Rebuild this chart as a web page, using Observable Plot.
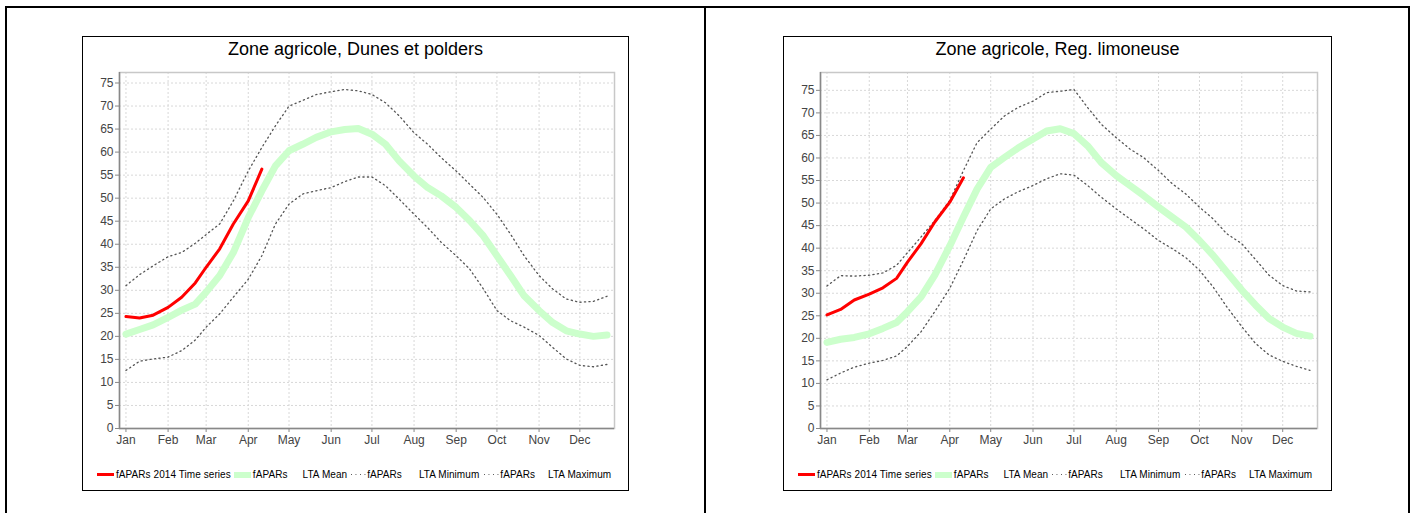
<!DOCTYPE html>
<html>
<head>
<meta charset="utf-8">
<script src="https://cdn.jsdelivr.net/npm/d3@7"></script>
<script src="https://cdn.jsdelivr.net/npm/@observablehq/plot@0.6"></script>
<style>
  html, body { margin:0; padding:0; background:#fff; }
  body { width:1415px; height:513px; overflow:hidden; position:relative; font-family:"Liberation Sans", Arial, sans-serif; }
  .frame { position:absolute; left:5px; top:6px; width:1401px; height:560px; border:2px solid #000; }
  .divider { position:absolute; left:704px; top:6px; width:2px; height:560px; background:#000; }
  .box { position:absolute; top:36px; height:453px; border:1px solid #000; background:#fff; }
  .title { position:absolute; left:0; right:0; top:2px; line-height:21px; text-align:center; font-size:18px; color:#000; }
  .plot { position:absolute; left:0; top:24px; }
  .legend { position:absolute; left:14px; top:432px; display:flex; align-items:center; font-size:10px; letter-spacing:0.07px; color:#000; white-space:pre; }
  .sw { display:inline-block; }
  .sw.red { width:17px; height:3px; background:#ff0000; }
  .sw.green { width:17px; height:6px; background:#ccffcc; }
  .sw.dots { width:15px; height:2px; background-image:linear-gradient(to right, #555 0 1.3px, transparent 1.3px 100%); background-size:4.5px 1.3px; background-repeat:repeat-x; background-position:0 0.3px; }
</style>
</head>
<body>
<div class="frame"></div>
<div class="divider"></div>
<div class="box" id="boxL" style="left:82px; width:545px;"><div class="title" id="titleL"></div><div class="plot" id="plotL"></div></div>
<div class="box" id="boxR" style="left:783px; width:547px;"><div class="title" id="titleR"></div><div class="plot" id="plotR"></div></div>
<script>
// ---------- DATA ----------
const dekads = [
  "2014-01-01","2014-01-11","2014-01-21","2014-02-01","2014-02-11","2014-02-21",
  "2014-03-01","2014-03-11","2014-03-21","2014-04-01","2014-04-11","2014-04-21",
  "2014-05-01","2014-05-11","2014-05-21","2014-06-01","2014-06-11","2014-06-21",
  "2014-07-01","2014-07-11","2014-07-21","2014-08-01","2014-08-11","2014-08-21",
  "2014-09-01","2014-09-11","2014-09-21","2014-10-01","2014-10-11","2014-10-21",
  "2014-11-01","2014-11-11","2014-11-21","2014-12-01","2014-12-11","2014-12-21"
];
const yTicks = [0,5,10,15,20,25,30,35,40,45,50,55,60,65,70,75];

const titleLeft = "Zone agricole, Dunes et polders";
const left2014 = [24.3, 24.0, 24.6, 26.3, 28.5, 31.6, 35.0, 39.0, 44.4, 49.4, 56.3];
const leftMean = [20.5, 21.5, 22.5, 24.1, 25.7, 27.0, 29.6, 33.2, 38.2, 45.8, 51.6, 57.0,
                  60.3, 61.7, 63.2, 64.4, 64.9, 65.1, 63.9, 61.7, 58.1, 54.8, 52.3, 50.5,
                  48.0, 45.1, 41.8, 37.5, 33.2, 28.8, 25.6, 23.0, 21.2, 20.5, 20.0, 20.3];
const leftMin  = [12.6, 14.6, 15.1, 15.5, 16.9, 19.2, 22.0, 24.9, 28.5, 32.4, 37.5, 44.4,
                  48.7, 50.9, 51.6, 52.3, 53.6, 54.6, 54.6, 52.7, 49.8, 46.5, 43.6, 40.4,
                  37.5, 34.6, 30.3, 25.6, 23.4, 22.0, 20.2, 17.6, 15.1, 13.7, 13.4, 13.9];
const leftMax  = [31.0, 33.4, 35.3, 37.3, 38.2, 40.2, 42.1, 44.4, 49.4, 55.9, 61.0, 65.7,
                  70.0, 71.2, 72.5, 73.1, 73.6, 73.3, 72.5, 70.7, 67.9, 64.2, 61.7, 58.8,
                  55.9, 53.0, 50.1, 46.5, 42.2, 37.5, 33.2, 30.3, 28.1, 27.4, 27.6, 28.7];

const titleRight = "Zone agricole, Reg. limoneuse";
const right2014 = [25.2, 26.4, 28.5, 29.8, 31.2, 33.3, 36.9, 41.0, 45.8, 50.2, 55.6];
const rightMean = [19.1, 19.8, 20.2, 21.0, 22.2, 23.5, 25.9, 29.2, 34.0, 40.5, 46.9, 53.1,
                   57.9, 60.1, 62.2, 64.2, 66.0, 66.5, 65.4, 62.7, 59.0, 56.1, 53.9, 51.7,
                   49.1, 46.9, 44.7, 41.7, 38.4, 34.7, 30.7, 27.4, 24.4, 22.5, 21.1, 20.5];
const rightMin  = [10.8, 12.3, 13.6, 14.5, 15.1, 16.1, 18.2, 21.5, 25.9, 31.1, 37.3, 43.9,
                   48.7, 50.9, 52.5, 53.9, 55.4, 56.5, 56.2, 53.9, 51.3, 48.7, 46.5, 44.3,
                   41.7, 39.9, 37.9, 35.1, 31.4, 27.0, 22.6, 18.9, 16.3, 14.9, 13.8, 12.9];
const rightMax  = [31.6, 33.9, 33.8, 34.0, 34.5, 36.2, 39.0, 42.5, 46.1, 50.6, 57.2, 63.4,
                   66.4, 69.3, 71.2, 72.6, 74.5, 74.8, 75.2, 71.2, 67.5, 64.5, 62.0, 60.1,
                   57.2, 54.3, 52.0, 49.1, 46.5, 43.2, 41.0, 37.5, 34.0, 31.7, 30.5, 30.3];

const legendItems = [
  {type:"red",   text:"fAPARs 2014 Time series"},
  {type:"green", text:"fAPARs"},
  {type:"label", text:"LTA Mean"},
  {type:"dots",  text:"fAPARs"},
  {type:"label", text:"LTA Minimum"},
  {type:"dots",  text:"fAPARs"},
  {type:"label", text:"LTA Maximum"}
];

// ---------- DRAW ----------
const months = d3.utcMonth.range(new Date(Date.UTC(2014,0,1)), new Date(Date.UTC(2015,0,1)));
const xDomain = [new Date(Date.UTC(2013,11,27,6)), new Date(Date.UTC(2014,11,26,12))];

function makeChart(plotId, titleId, boxId, title, s2014, mean, mn, mx, width) {
  document.getElementById(titleId).textContent = title;
  const dates = dekads.map(d => new Date(d + "T00:00:00Z"));
  const lta = dates.map((date, i) => ({date, mean: mean[i], min: mn[i], max: mx[i]}));
  const cur = s2014.map((v, i) => ({date: dates[i], v}));
  const yMax = d3.max(mx) * 1.05;
  const chart = Plot.plot({
    width, height: 392,
    marginLeft: 36, marginRight: 14, marginTop: 11, marginBottom: 25,
    style: {fontFamily: "'Liberation Sans', Arial, sans-serif", fontSize: "12px", background: "transparent", color: "#444"},
    x: {type: "utc", domain: xDomain},
    y: {domain: [0, yMax]},
    marks: [
      Plot.gridY(yTicks, {stroke: "#d8d8d8", strokeOpacity: 1, strokeDasharray: "2,2"}),
      Plot.gridX(months, {stroke: "#d8d8d8", strokeOpacity: 1, strokeDasharray: "2,2"}),
      Plot.frame({stroke: "#c8c8c8", strokeWidth: 1.5}),
      Plot.ruleY([0], {stroke: "#888", strokeWidth: 1.5}),
      Plot.ruleX([xDomain[0]], {stroke: "#888", strokeWidth: 1.5}),
      Plot.axisY(yTicks, {tickSize: 4, tickPadding: 2, stroke: "#888", fill: "#444", fontSize: 12, label: null}),
      Plot.axisX(months, {tickSize: 4, tickPadding: 3, tickFormat: d3.utcFormat("%b"), stroke: "#888", fill: "#444", fontSize: 12, label: null}),
      Plot.lineY(lta, {x: "date", y: "min", stroke: "#555", strokeWidth: 1.3, strokeDasharray: "1.2,3.3"}),
      Plot.lineY(lta, {x: "date", y: "max", stroke: "#555", strokeWidth: 1.3, strokeDasharray: "1.2,3.3"}),
      Plot.lineY(lta, {x: "date", y: "mean", stroke: "#ccffcc", strokeWidth: 7, strokeLinejoin: "round"}),
      Plot.lineY(cur, {x: "date", y: "v", stroke: "#ff0000", strokeWidth: 3})
    ]
  });
  document.getElementById(plotId).appendChild(chart);

  const lg = document.createElement("div");
  lg.className = "legend";
  const gaps = [0, 3, 15, 4, 17, 5, 13];
  legendItems.forEach((it, i) => {
    if (it.type !== "label") {
      const sw = document.createElement("span");
      sw.className = "sw " + it.type;
      sw.style.marginLeft = gaps[i] + "px";
      lg.appendChild(sw);
      const t = document.createElement("span");
      t.textContent = it.text;
      t.style.marginLeft = (it.type === "dots" ? 1 : 2) + "px";
      lg.appendChild(t);
    } else {
      const t = document.createElement("span");
      t.textContent = it.text;
      t.style.marginLeft = gaps[i] + "px";
      lg.appendChild(t);
    }
  });
  document.getElementById(boxId).appendChild(lg);
}

makeChart("plotL", "titleL", "boxL", titleLeft, left2014, leftMean, leftMin, leftMax, 545);
makeChart("plotR", "titleR", "boxR", titleRight, right2014, rightMean, rightMin, rightMax, 547);
</script>
</body>
</html>
